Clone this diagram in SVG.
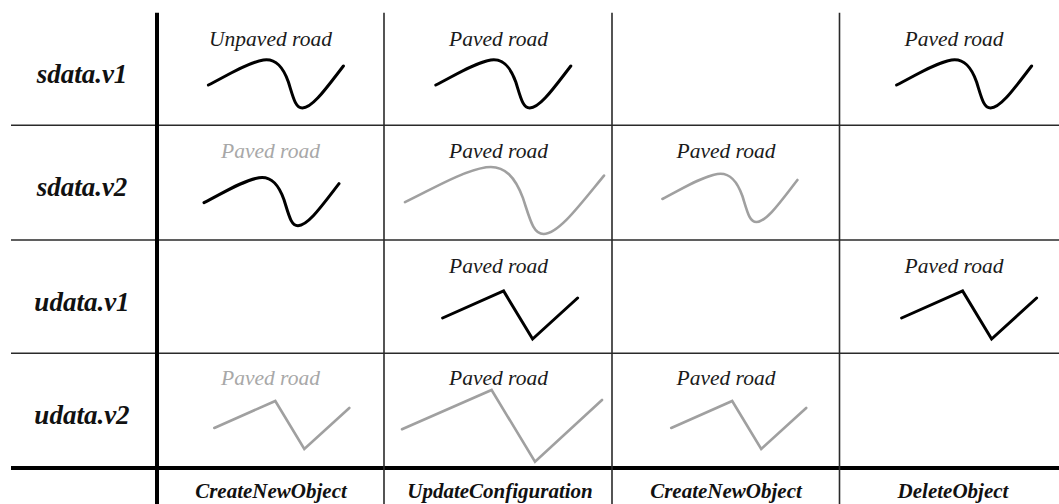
<svg xmlns="http://www.w3.org/2000/svg" xmlns:xlink="http://www.w3.org/1999/xlink" width="1059" height="504" viewBox="0 0 1059 504">
<style>
  .grid { stroke: #2a2a2a; stroke-width: 1.6; fill: none; }
  .thick { stroke: #000; stroke-width: 4; fill: none; }
  .row { font-family: "Liberation Serif", "Times New Roman", serif; font-style: italic; font-weight: bold; font-size: 27px; fill: #111; text-anchor: middle; }
  .op { font-family: "Liberation Serif", "Times New Roman", serif; font-style: italic; font-weight: bold; font-size: 21px; fill: #111; text-anchor: middle; }
  .lbl { font-family: "Liberation Serif", "Times New Roman", serif; font-style: italic; font-size: 21.5px; fill: #1a1a1a; text-anchor: middle; }
  .lbl.g { fill: #a8a8a8; }
  .blk { stroke: #000; stroke-width: 3; fill: none; stroke-linecap: round; stroke-linejoin: miter; }
  .gry { stroke: #a0a0a0; stroke-width: 2.6; fill: none; stroke-linecap: round; stroke-linejoin: miter; }
</style>
<defs>
  <path id="curve" d="M0,25 C18,16 38,3 55,0 C68,-2 75,8 80,22 C85,38 87,48 94,48 C104,48 118,28 135,6"/>
  <polyline id="zig" points="0,27 61,0 90,48 135,7"/>
</defs>
<rect width="1059" height="504" fill="#fff"/>

<g id="connectors">
  <line class="grid" x1="11" y1="125.3" x2="1059" y2="125.3"/>
  <line class="grid" x1="11" y1="240" x2="1059" y2="240"/>
  <line class="grid" x1="11" y1="353.3" x2="1059" y2="353.3"/>
  <line class="thick" x1="11" y1="468" x2="1059" y2="468"/>
  <line class="grid" x1="384" y1="12.8" x2="384" y2="504"/>
  <line class="grid" x1="612" y1="12.8" x2="612" y2="504"/>
  <line class="grid" x1="839.5" y1="12.8" x2="839.5" y2="504"/>
  <line class="thick" x1="157" y1="12.8" x2="157" y2="504"/>
</g>

<g id="row-labels">
  <text class="row" x="82" y="82.7">sdata.v1</text>
  <text class="row" x="82" y="196">sdata.v2</text>
  <text class="row" x="82" y="310.5">udata.v1</text>
  <text class="row" x="82" y="424">udata.v2</text>
</g>

<g id="op-labels">
  <text class="op" x="271" y="498">CreateNewObject</text>
  <text class="op" x="500" y="498">UpdateConfiguration</text>
  <text class="op" x="726" y="498">CreateNewObject</text>
  <text class="op" x="953" y="498">DeleteObject</text>
</g>

<g id="cell-s1-c1">
  <text class="lbl" x="270.5" y="45.5">Unpaved road</text>
  <use xlink:href="#curve" class="blk" transform="translate(208.4,60)"/>
</g>
<g id="cell-s1-c2">
  <text class="lbl" x="498.5" y="45.5">Paved road</text>
  <use xlink:href="#curve" class="blk" transform="translate(435.8,60)"/>
</g>
<g id="cell-s1-c4">
  <text class="lbl" x="954" y="45.5">Paved road</text>
  <use xlink:href="#curve" class="blk" transform="translate(896.6,60)"/>
</g>

<g id="cell-s2-c1">
  <text class="lbl g" x="270.5" y="158">Paved road</text>
  <use xlink:href="#curve" class="blk" transform="translate(204,177.7)"/>
</g>
<g id="cell-s2-c2">
  <text class="lbl" x="498.5" y="158">Paved road</text>
  <path class="gry" d="M405,202.1 C431.5,189.5 461,171.5 486.1,167.3 C505.2,164.5 515.6,178.4 522.9,197.9 C530.3,220.1 533.2,234 543.6,234 C558.3,234 578.9,206.2 604,175.6"/>
</g>
<g id="cell-s2-c3">
  <text class="lbl" x="726" y="158">Paved road</text>
  <use xlink:href="#curve" class="gry" transform="translate(662.4,174)"/>
</g>

<g id="cell-u1-c2">
  <text class="lbl" x="498.5" y="272.5">Paved road</text>
  <use xlink:href="#zig" class="blk" transform="translate(442.6,291)"/>
</g>
<g id="cell-u1-c4">
  <text class="lbl" x="954" y="272.5">Paved road</text>
  <use xlink:href="#zig" class="blk" transform="translate(901.6,291)"/>
</g>

<g id="cell-u2-c1">
  <text class="lbl g" x="270.5" y="385">Paved road</text>
  <use xlink:href="#zig" class="gry" transform="translate(214.3,401)"/>
</g>
<g id="cell-u2-c2">
  <text class="lbl" x="498.5" y="385">Paved road</text>
  <polyline class="gry" points="402,429.3 491.6,390 535,461.7 602,400"/>
</g>
<g id="cell-u2-c3">
  <text class="lbl" x="726" y="385">Paved road</text>
  <use xlink:href="#zig" class="gry" transform="translate(671.2,401)"/>
</g>
</svg>
